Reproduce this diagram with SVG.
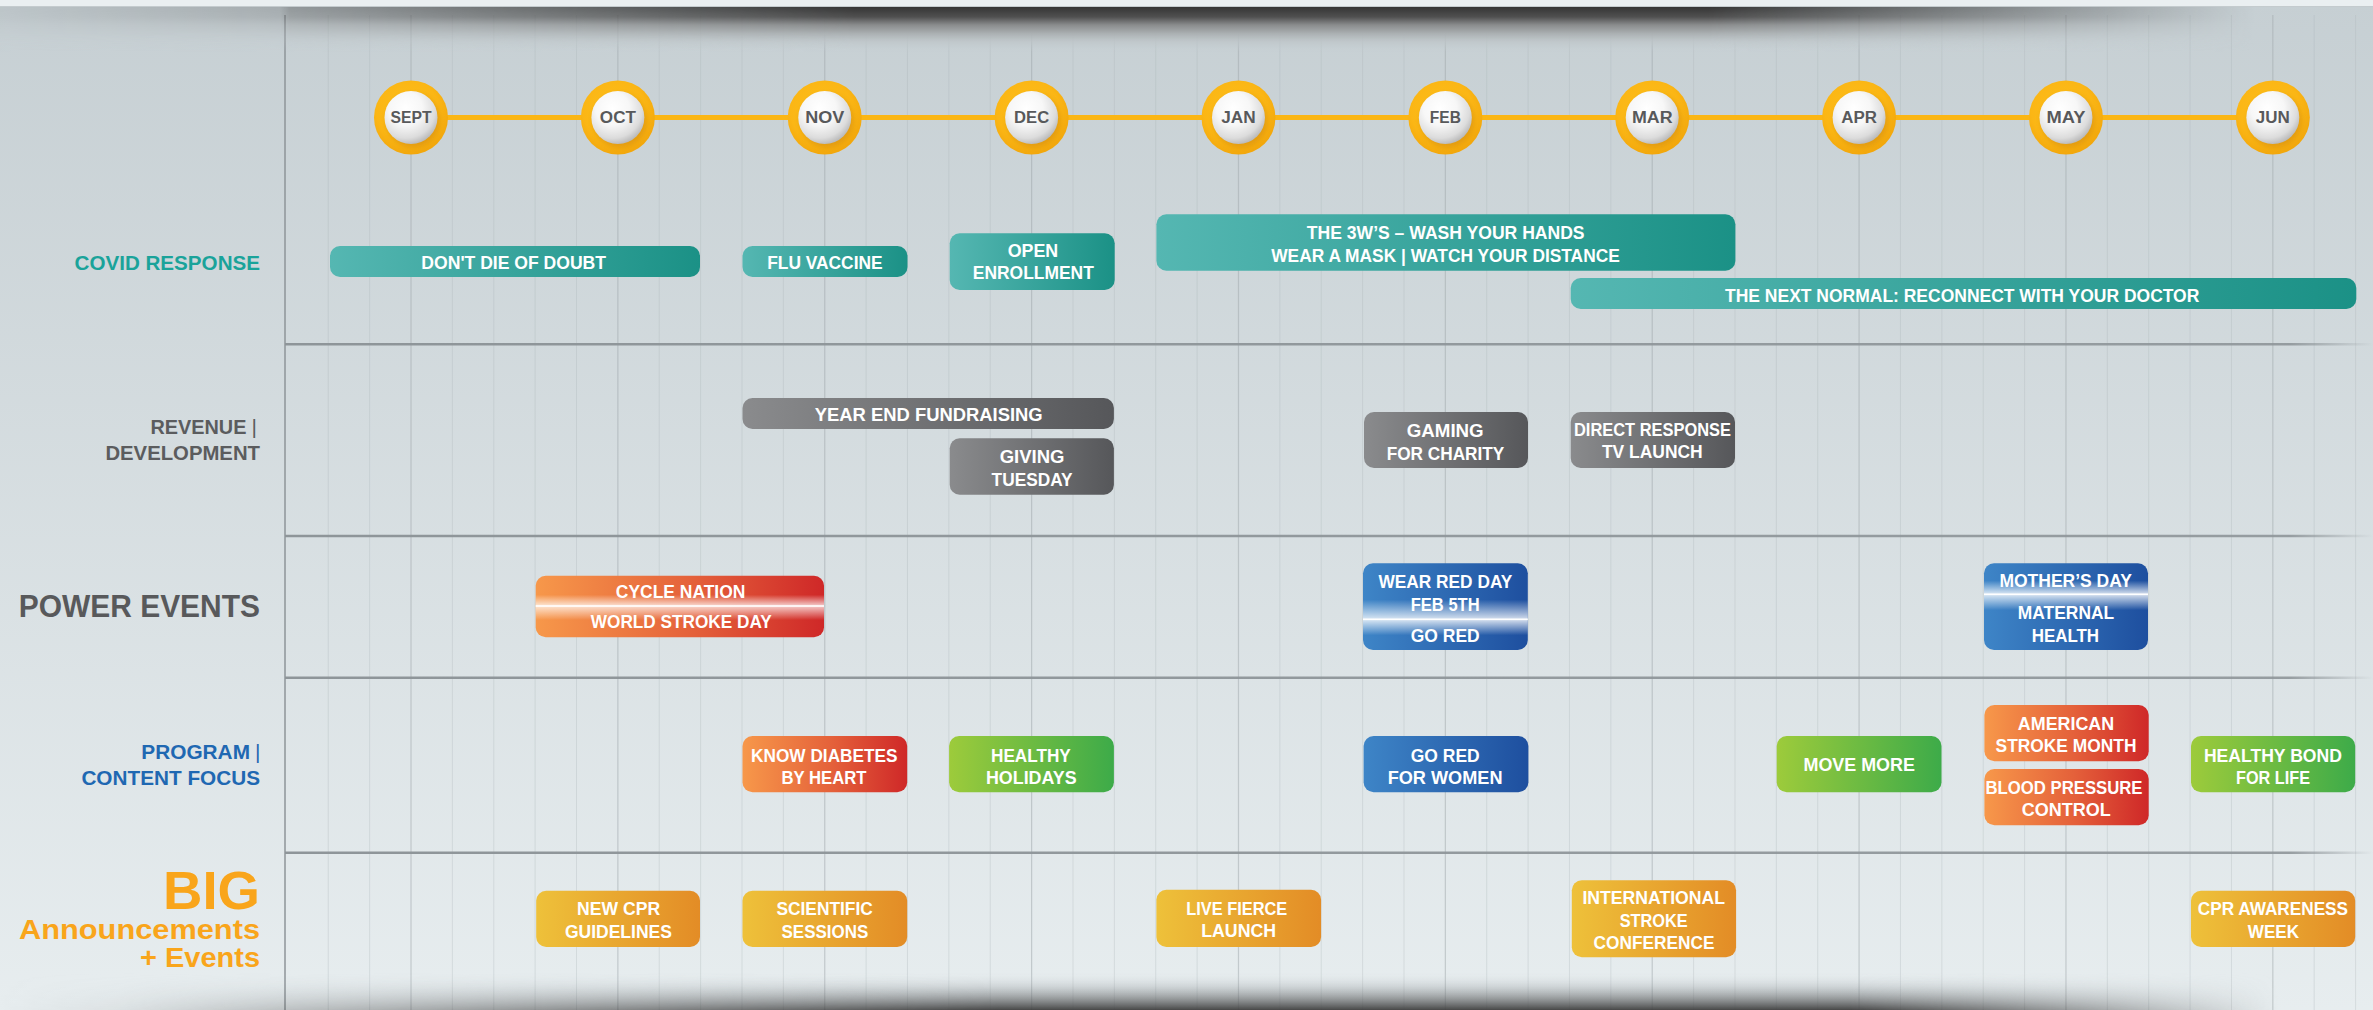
<svg xmlns="http://www.w3.org/2000/svg" width="2373" height="1010" viewBox="0 0 2373 1010">
<defs>
<style>
.bt{font-family:"Liberation Sans",Arial,sans-serif;font-weight:700;font-size:19px;fill:#fff;text-anchor:middle}
.mt{font-family:"Liberation Sans",Arial,sans-serif;font-weight:700;font-size:16px;fill:#58595b;text-anchor:middle}
.lb{font-family:"Liberation Sans",Arial,sans-serif;font-weight:700;text-anchor:end}
.bar{font-family:"Liberation Sans",Arial,sans-serif;font-weight:400;font-size:21px;text-anchor:middle}
.grid{stroke:#a9b2b6;stroke-width:1;stroke-opacity:.3;fill:none}
.gridm{stroke:#9fa8ac;stroke-width:1.2;stroke-opacity:.5;fill:none}
.hl{stroke:url(#hlFade);stroke-width:2.5;fill:none}
.sep{fill:#ffffff}
</style>
<linearGradient id="bg" x1="0" y1="0" x2="0" y2="1">
<stop offset="0" stop-color="#c6cfd3"/><stop offset="1" stop-color="#e7edef"/>
</linearGradient>
<linearGradient id="hlFade" gradientUnits="userSpaceOnUse" x1="285" y1="0" x2="2373" y2="0">
<stop offset="0" stop-color="#8e9599"/><stop offset="0.96" stop-color="#8e9599" stop-opacity="0.9"/><stop offset="1" stop-color="#8e9599" stop-opacity="0"/>
</linearGradient>
<linearGradient id="topSh" x1="0" y1="0" x2="0" y2="1">
<stop offset="0" stop-color="#353535"/><stop offset="0.22" stop-color="#505050"/><stop offset="0.4" stop-color="#8a8c8d"/><stop offset="0.58" stop-color="#a9aeb0"/><stop offset="0.75" stop-color="#bcc3c6" stop-opacity="0.8"/><stop offset="1" stop-color="#c6cfd3" stop-opacity="0"/>
</linearGradient>
<linearGradient id="botSh" x1="0" y1="0" x2="0" y2="1">
<stop offset="0" stop-color="#e7edef" stop-opacity="0"/><stop offset="0.4" stop-color="#8a8f92" stop-opacity="0.28"/><stop offset="1" stop-color="#3f3f3f" stop-opacity="0.95"/>
</linearGradient>
<linearGradient id="hfT" x1="0" y1="0" x2="1" y2="0">
<stop offset="0" stop-color="#111"/><stop offset="0.118" stop-color="#3a3a3a"/><stop offset="0.122" stop-color="#5a5a5a"/><stop offset="0.36" stop-color="#fff"/><stop offset="0.72" stop-color="#fff"/><stop offset="0.95" stop-color="#000"/>
</linearGradient>
<linearGradient id="hfB" x1="0" y1="0" x2="1" y2="0">
<stop offset="0" stop-color="#000"/><stop offset="0.05" stop-color="#111"/><stop offset="0.12" stop-color="#444"/><stop offset="0.42" stop-color="#fff"/><stop offset="0.78" stop-color="#fff"/><stop offset="0.96" stop-color="#000"/>
</linearGradient>
<mask id="mT" maskUnits="userSpaceOnUse" x="0" y="0" width="2373" height="1010"><rect x="0" y="0" width="2373" height="1010" fill="url(#hfT)"/></mask>
<mask id="mB" maskUnits="userSpaceOnUse" x="0" y="0" width="2373" height="1010"><rect x="0" y="0" width="2373" height="1010" fill="url(#hfB)"/></mask>
<linearGradient id="gTeal" x1="0" y1="0" x2="1" y2="0"><stop offset="0" stop-color="#55b7b2"/><stop offset="1" stop-color="#1b9186"/></linearGradient>
<linearGradient id="gGrey" x1="0" y1="0" x2="1" y2="0"><stop offset="0" stop-color="#8a8b8d"/><stop offset="1" stop-color="#56575a"/></linearGradient>
<linearGradient id="gRed" x1="0" y1="0" x2="1" y2="0"><stop offset="0" stop-color="#f7984a"/><stop offset="0.55" stop-color="#e4603a"/><stop offset="1" stop-color="#cf2828"/></linearGradient>
<linearGradient id="gGreen" x1="0" y1="0" x2="1" y2="0"><stop offset="0" stop-color="#9dcb3b"/><stop offset="1" stop-color="#3dab49"/></linearGradient>
<linearGradient id="gBlue" x1="0" y1="0" x2="1" y2="0"><stop offset="0" stop-color="#3e85c7"/><stop offset="1" stop-color="#1e4f9f"/></linearGradient>
<linearGradient id="gGold" x1="0" y1="0" x2="1" y2="0"><stop offset="0" stop-color="#eec13a"/><stop offset="1" stop-color="#e38c26"/></linearGradient>
<linearGradient id="glC" x1="0" y1="0" x2="0" y2="1"><stop offset="0" stop-color="#fff" stop-opacity="0"/><stop offset="0.31" stop-color="#fff" stop-opacity="0"/><stop offset="0.48" stop-color="#fff" stop-opacity="0.72"/><stop offset="0.5" stop-color="#fff" stop-opacity="0.72"/><stop offset="0.72" stop-color="#fff" stop-opacity="0"/><stop offset="1" stop-color="#fff" stop-opacity="0"/></linearGradient>
<linearGradient id="glW" x1="0" y1="0" x2="0" y2="1"><stop offset="0" stop-color="#fff" stop-opacity="0"/><stop offset="0.42" stop-color="#fff" stop-opacity="0"/><stop offset="0.64" stop-color="#fff" stop-opacity="0.78"/><stop offset="0.655" stop-color="#fff" stop-opacity="0.78"/><stop offset="0.83" stop-color="#fff" stop-opacity="0"/><stop offset="1" stop-color="#fff" stop-opacity="0"/></linearGradient>
<linearGradient id="glM" x1="0" y1="0" x2="0" y2="1"><stop offset="0" stop-color="#fff" stop-opacity="0"/><stop offset="0.2" stop-color="#fff" stop-opacity="0"/><stop offset="0.35" stop-color="#fff" stop-opacity="0.78"/><stop offset="0.365" stop-color="#fff" stop-opacity="0.78"/><stop offset="0.54" stop-color="#fff" stop-opacity="0"/><stop offset="1" stop-color="#fff" stop-opacity="0"/></linearGradient>
<radialGradient id="ring" cx="0.45" cy="0.4" r="0.6"><stop offset="0" stop-color="#fdbf1a"/><stop offset="0.7" stop-color="#fbb615"/><stop offset="1" stop-color="#f2a70c"/></radialGradient>
<radialGradient id="pearl" cx="0.4" cy="0.33" r="0.7"><stop offset="0" stop-color="#ffffff"/><stop offset="0.45" stop-color="#f7f7f7"/><stop offset="0.8" stop-color="#dcdcdc"/><stop offset="1" stop-color="#b7b7b7"/></radialGradient>
<filter id="blur3" x="-30%" y="-30%" width="160%" height="160%"><feGaussianBlur stdDeviation="2.5"/></filter>
</defs>

<!-- background -->
<rect x="0" y="0" width="2373" height="1010" fill="url(#bg)"/>
<g id="grid">
<path class="grid" d="M328.25 15V1010M369.63 15V1010M452.37 15V1010M493.75 15V1010M535.12 15V1010M576.5 15V1010M659.24 15V1010M700.62 15V1010M741.99 15V1010M783.37 15V1010M866.11 15V1010M907.49 15V1010M948.86 15V1010M990.24 15V1010M1072.98 15V1010M1114.36 15V1010M1155.73 15V1010M1197.11 15V1010M1279.85 15V1010M1321.23 15V1010M1362.6 15V1010M1403.98 15V1010M1486.72 15V1010M1528.1 15V1010M1569.47 15V1010M1610.85 15V1010M1693.59 15V1010M1734.97 15V1010M1776.34 15V1010M1817.72 15V1010M1900.46 15V1010M1941.84 15V1010M1983.21 15V1010M2024.59 15V1010M2107.33 15V1010M2148.71 15V1010M2190.08 15V1010M2231.46 15V1010M2314.2 15V1010M2355.58 15V1010"/>
<path class="gridm" d="M411 15V1010M617.87 15V1010M824.74 15V1010M1031.61 15V1010M1238.48 15V1010M1445.35 15V1010M1652.22 15V1010M1859.09 15V1010M2065.96 15V1010M2272.83 15V1010"/>
<line x1="285" y1="15" x2="285" y2="1010" stroke="#8e9599" stroke-width="1.5"/>
<path class="hl" d="M285 344.3H2373M285 536H2373M285 677.7H2373M285 852.7H2373"/>
</g>

<!-- row labels -->
<g id="labels">
<text class="lb" x="260" y="270" font-size="21" fill="#1aa39a" textLength="185.5" lengthAdjust="spacingAndGlyphs">COVID RESPONSE</text>
<text class="lb" x="246.4" y="434" font-size="21" fill="#5b5c5e" textLength="96" lengthAdjust="spacingAndGlyphs">REVENUE</text>
<text class="bar" x="254.3" y="434" fill="#5b5c5e">|</text>
<text class="lb" x="260" y="460" font-size="21" fill="#5b5c5e" textLength="154.6" lengthAdjust="spacingAndGlyphs">DEVELOPMENT</text>
<text class="lb" x="260" y="617.3" font-size="31" fill="#58595b" textLength="241.3" lengthAdjust="spacingAndGlyphs">POWER EVENTS</text>
<text class="lb" x="250" y="759" font-size="21" fill="#1f68b2" textLength="108.7" lengthAdjust="spacingAndGlyphs">PROGRAM</text>
<text class="bar" x="257.8" y="759" fill="#1f68b2">|</text>
<text class="lb" x="260" y="785" font-size="21" fill="#1f68b2" textLength="178.6" lengthAdjust="spacingAndGlyphs">CONTENT FOCUS</text>
<text class="lb" x="260" y="909.3" font-size="53" fill="#f9a51b" textLength="97" lengthAdjust="spacingAndGlyphs">BIG</text>
<text class="lb" x="260" y="939" font-size="28" fill="#f9a51b" textLength="241" lengthAdjust="spacingAndGlyphs">Announcements</text>
<text class="lb" x="260" y="966.7" font-size="28" fill="#f9a51b" textLength="120" lengthAdjust="spacingAndGlyphs">+ Events</text>
</g>

<!-- timeline connector -->
<g id="connectors">
<line x1="411" y1="117.5" x2="2272.83" y2="117.5" stroke="#fbb614" stroke-width="5"/>
</g>

<!-- months -->
<g id="m-sept" transform="translate(411,117.5)"><circle r="37" fill="url(#ring)"/><circle cx="2" cy="3" r="27" fill="#c9820a" opacity=".45" filter="url(#blur3)"/><circle r="26.5" fill="url(#pearl)"/><text class="mt" y="5.8" textLength="41" lengthAdjust="spacingAndGlyphs">SEPT</text></g>
<g id="m-oct" transform="translate(617.87,117.5)"><circle r="37" fill="url(#ring)"/><circle cx="2" cy="3" r="27" fill="#c9820a" opacity=".45" filter="url(#blur3)"/><circle r="26.5" fill="url(#pearl)"/><text class="mt" y="5.8" textLength="36" lengthAdjust="spacingAndGlyphs">OCT</text></g>
<g id="m-nov" transform="translate(824.74,117.5)"><circle r="37" fill="url(#ring)"/><circle cx="2" cy="3" r="27" fill="#c9820a" opacity=".45" filter="url(#blur3)"/><circle r="26.5" fill="url(#pearl)"/><text class="mt" y="5.8" textLength="39" lengthAdjust="spacingAndGlyphs">NOV</text></g>
<g id="m-dec" transform="translate(1031.61,117.5)"><circle r="37" fill="url(#ring)"/><circle cx="2" cy="3" r="27" fill="#c9820a" opacity=".45" filter="url(#blur3)"/><circle r="26.5" fill="url(#pearl)"/><text class="mt" y="5.8" textLength="35" lengthAdjust="spacingAndGlyphs">DEC</text></g>
<g id="m-jan" transform="translate(1238.48,117.5)"><circle r="37" fill="url(#ring)"/><circle cx="2" cy="3" r="27" fill="#c9820a" opacity=".45" filter="url(#blur3)"/><circle r="26.5" fill="url(#pearl)"/><text class="mt" y="5.8" textLength="34.4" lengthAdjust="spacingAndGlyphs">JAN</text></g>
<g id="m-feb" transform="translate(1445.35,117.5)"><circle r="37" fill="url(#ring)"/><circle cx="2" cy="3" r="27" fill="#c9820a" opacity=".45" filter="url(#blur3)"/><circle r="26.5" fill="url(#pearl)"/><text class="mt" y="5.8" textLength="31" lengthAdjust="spacingAndGlyphs">FEB</text></g>
<g id="m-mar" transform="translate(1652.22,117.5)"><circle r="37" fill="url(#ring)"/><circle cx="2" cy="3" r="27" fill="#c9820a" opacity=".45" filter="url(#blur3)"/><circle r="26.5" fill="url(#pearl)"/><text class="mt" y="5.8" textLength="40.6" lengthAdjust="spacingAndGlyphs">MAR</text></g>
<g id="m-apr" transform="translate(1859.09,117.5)"><circle r="37" fill="url(#ring)"/><circle cx="2" cy="3" r="27" fill="#c9820a" opacity=".45" filter="url(#blur3)"/><circle r="26.5" fill="url(#pearl)"/><text class="mt" y="5.8" textLength="35.6" lengthAdjust="spacingAndGlyphs">APR</text></g>
<g id="m-may" transform="translate(2065.96,117.5)"><circle r="37" fill="url(#ring)"/><circle cx="2" cy="3" r="27" fill="#c9820a" opacity=".45" filter="url(#blur3)"/><circle r="26.5" fill="url(#pearl)"/><text class="mt" y="5.8" textLength="39" lengthAdjust="spacingAndGlyphs">MAY</text></g>
<g id="m-jun" transform="translate(2272.83,117.5)"><circle r="37" fill="url(#ring)"/><circle cx="2" cy="3" r="27" fill="#c9820a" opacity=".45" filter="url(#blur3)"/><circle r="26.5" fill="url(#pearl)"/><text class="mt" y="5.8" textLength="34" lengthAdjust="spacingAndGlyphs">JUN</text></g>

<!-- COVID RESPONSE -->
<g id="n-dont-die"><rect x="330" y="246" width="370" height="31" rx="10" fill="url(#gTeal)"/><text class="bt" x="513.7" y="269.3" textLength="184.7" lengthAdjust="spacingAndGlyphs">DON'T DIE OF DOUBT</text></g>
<g id="n-flu"><rect x="742.5" y="246" width="165" height="31" rx="10" fill="url(#gTeal)"/><text class="bt" x="824.9" y="269.3" textLength="115.4" lengthAdjust="spacingAndGlyphs">FLU VACCINE</text></g>
<g id="n-open"><rect x="949.7" y="233.3" width="165" height="56.7" rx="10" fill="url(#gTeal)"/><text class="bt" x="1033" y="256.7" textLength="50.5" lengthAdjust="spacingAndGlyphs">OPEN</text><text class="bt" x="1033.3" y="279.3" textLength="121" lengthAdjust="spacingAndGlyphs">ENROLLMENT</text></g>
<g id="n-3ws"><rect x="1156.4" y="214.3" width="579" height="56.4" rx="10" fill="url(#gTeal)"/><text class="bt" x="1445.7" y="239" textLength="277.8" lengthAdjust="spacingAndGlyphs">THE 3W’S – WASH YOUR HANDS</text><text class="bt" x="1445.5" y="262" textLength="348.5" lengthAdjust="spacingAndGlyphs">WEAR A MASK | WATCH YOUR DISTANCE</text></g>
<g id="n-next-normal"><rect x="1570.7" y="278" width="785.6" height="31" rx="10" fill="url(#gTeal)"/><text class="bt" x="1962.2" y="301.7" textLength="474.3" lengthAdjust="spacingAndGlyphs">THE NEXT NORMAL: RECONNECT WITH YOUR DOCTOR</text></g>

<!-- REVENUE | DEVELOPMENT -->
<g id="n-year-end"><rect x="742.5" y="398" width="371.4" height="31" rx="10" fill="url(#gGrey)"/><text class="bt" x="928.7" y="420.7" textLength="228" lengthAdjust="spacingAndGlyphs">YEAR END FUNDRAISING</text></g>
<g id="n-giving"><rect x="949.7" y="438.3" width="164.2" height="56.4" rx="10" fill="url(#gGrey)"/><text class="bt" x="1032.1" y="463.3" textLength="64.8" lengthAdjust="spacingAndGlyphs">GIVING</text><text class="bt" x="1032.1" y="486.3" textLength="81" lengthAdjust="spacingAndGlyphs">TUESDAY</text></g>
<g id="n-gaming"><rect x="1364" y="412" width="164" height="56" rx="10" fill="url(#gGrey)"/><text class="bt" x="1445.2" y="436.7" textLength="77" lengthAdjust="spacingAndGlyphs">GAMING</text><text class="bt" x="1445.5" y="459.7" textLength="117.7" lengthAdjust="spacingAndGlyphs">FOR CHARITY</text></g>
<g id="n-direct"><rect x="1570.7" y="412" width="164.3" height="56" rx="10" fill="url(#gGrey)"/><text class="bt" x="1652.5" y="436" textLength="157" lengthAdjust="spacingAndGlyphs">DIRECT RESPONSE</text><text class="bt" x="1652.3" y="458.3" textLength="100.8" lengthAdjust="spacingAndGlyphs">TV LAUNCH</text></g>

<!-- POWER EVENTS -->
<g id="n-cycle"><rect x="535.7" y="575.7" width="288.3" height="61.6" rx="10" fill="url(#gRed)"/><rect x="535.7" y="575.7" width="288.3" height="61.6" rx="10" fill="url(#glC)"/><rect class="sep" x="535.7" y="605.2" width="288.3" height="1.6"/><text class="bt" x="680.6" y="598.3" textLength="129.6" lengthAdjust="spacingAndGlyphs">CYCLE NATION</text><text class="bt" x="681.3" y="628.3" textLength="181" lengthAdjust="spacingAndGlyphs">WORLD STROKE DAY</text></g>
<g id="n-wear-red"><rect x="1363" y="563.3" width="164.8" height="86.7" rx="10" fill="url(#gBlue)"/><rect x="1363" y="563.3" width="164.8" height="86.7" rx="10" fill="url(#glW)"/><rect class="sep" x="1363" y="618.5" width="164.8" height="1.6"/><text class="bt" x="1445.4" y="587.7" textLength="133.8" lengthAdjust="spacingAndGlyphs">WEAR RED DAY</text><text class="bt" x="1445.2" y="611" textLength="68.9" lengthAdjust="spacingAndGlyphs">FEB 5TH</text><text class="bt" x="1445.2" y="641.7" textLength="68.9" lengthAdjust="spacingAndGlyphs">GO RED</text></g>
<g id="n-mothers"><rect x="1984" y="563.3" width="164" height="86.7" rx="10" fill="url(#gBlue)"/><rect x="1984" y="563.3" width="164" height="86.7" rx="10" fill="url(#glM)"/><rect class="sep" x="1984" y="593.5" width="164" height="1.6"/><text class="bt" x="2065.7" y="586.7" textLength="132.5" lengthAdjust="spacingAndGlyphs">MOTHER’S DAY</text><text class="bt" x="2066" y="618.7" textLength="96.3" lengthAdjust="spacingAndGlyphs">MATERNAL</text><text class="bt" x="2065.4" y="641.7" textLength="67.4" lengthAdjust="spacingAndGlyphs">HEALTH</text></g>

<!-- PROGRAM | CONTENT FOCUS -->
<g id="n-know-diabetes"><rect x="742.5" y="736" width="164.7" height="56.3" rx="10" fill="url(#gRed)"/><text class="bt" x="824.3" y="761.7" textLength="146.4" lengthAdjust="spacingAndGlyphs">KNOW DIABETES</text><text class="bt" x="824" y="783.7" textLength="85" lengthAdjust="spacingAndGlyphs">BY HEART</text></g>
<g id="n-healthy-holidays"><rect x="949.1" y="736" width="164.8" height="56.3" rx="10" fill="url(#gGreen)"/><text class="bt" x="1030.9" y="761.7" textLength="79.8" lengthAdjust="spacingAndGlyphs">HEALTHY</text><text class="bt" x="1031.3" y="783.7" textLength="90.7" lengthAdjust="spacingAndGlyphs">HOLIDAYS</text></g>
<g id="n-go-red-women"><rect x="1363.6" y="736" width="164.8" height="56.3" rx="10" fill="url(#gBlue)"/><text class="bt" x="1445.2" y="761.7" textLength="68.9" lengthAdjust="spacingAndGlyphs">GO RED</text><text class="bt" x="1445.1" y="783.7" textLength="114.8" lengthAdjust="spacingAndGlyphs">FOR WOMEN</text></g>
<g id="n-move-more"><rect x="1776.7" y="736" width="164.8" height="56.3" rx="10" fill="url(#gGreen)"/><text class="bt" x="1859.2" y="771.3" textLength="111.4" lengthAdjust="spacingAndGlyphs">MOVE MORE</text></g>
<g id="n-stroke-month"><rect x="1984.4" y="705" width="164.3" height="56.3" rx="10" fill="url(#gRed)"/><text class="bt" x="2066" y="730" textLength="96.3" lengthAdjust="spacingAndGlyphs">AMERICAN</text><text class="bt" x="2066" y="751.7" textLength="140.9" lengthAdjust="spacingAndGlyphs">STROKE MONTH</text></g>
<g id="n-blood-pressure"><rect x="1984.4" y="769" width="164.3" height="56.3" rx="10" fill="url(#gRed)"/><text class="bt" x="2064" y="794" textLength="157" lengthAdjust="spacingAndGlyphs">BLOOD PRESSURE</text><text class="bt" x="2066.3" y="816" textLength="89" lengthAdjust="spacingAndGlyphs">CONTROL</text></g>
<g id="n-healthy-bond"><rect x="2191" y="736" width="164.2" height="56.3" rx="10" fill="url(#gGreen)"/><text class="bt" x="2272.9" y="761.7" textLength="138" lengthAdjust="spacingAndGlyphs">HEALTHY BOND</text><text class="bt" x="2273" y="783.7" textLength="74" lengthAdjust="spacingAndGlyphs">FOR LIFE</text></g>

<!-- BIG Announcements + Events -->
<g id="n-cpr-guidelines"><rect x="536.2" y="890.7" width="163.8" height="56.3" rx="10" fill="url(#gGold)"/><text class="bt" x="618.6" y="915" textLength="83" lengthAdjust="spacingAndGlyphs">NEW CPR</text><text class="bt" x="618.4" y="937.7" textLength="107" lengthAdjust="spacingAndGlyphs">GUIDELINES</text></g>
<g id="n-scientific"><rect x="742.5" y="890.7" width="164.7" height="56.3" rx="10" fill="url(#gGold)"/><text class="bt" x="824.6" y="915" textLength="96.4" lengthAdjust="spacingAndGlyphs">SCIENTIFIC</text><text class="bt" x="824.9" y="937.7" textLength="86.7" lengthAdjust="spacingAndGlyphs">SESSIONS</text></g>
<g id="n-live-fierce"><rect x="1156.4" y="889.7" width="164.7" height="57.3" rx="10" fill="url(#gGold)"/><text class="bt" x="1236.8" y="915" textLength="101" lengthAdjust="spacingAndGlyphs">LIVE FIERCE</text><text class="bt" x="1238.7" y="936.7" textLength="75" lengthAdjust="spacingAndGlyphs">LAUNCH</text></g>
<g id="n-intl-stroke"><rect x="1571.8" y="880.3" width="164.3" height="77" rx="10" fill="url(#gGold)"/><text class="bt" x="1653.7" y="904" textLength="142.5" lengthAdjust="spacingAndGlyphs">INTERNATIONAL</text><text class="bt" x="1653.7" y="926.7" textLength="68" lengthAdjust="spacingAndGlyphs">STROKE</text><text class="bt" x="1654" y="948.7" textLength="120.8" lengthAdjust="spacingAndGlyphs">CONFERENCE</text></g>
<g id="n-cpr-week"><rect x="2191" y="890.7" width="164.2" height="56.3" rx="10" fill="url(#gGold)"/><text class="bt" x="2272.9" y="915" textLength="150.3" lengthAdjust="spacingAndGlyphs">CPR AWARENESS</text><text class="bt" x="2273.4" y="937.7" textLength="51.2" lengthAdjust="spacingAndGlyphs">WEEK</text></g>

<!-- page shadows -->
<rect x="0" y="7" width="2373" height="45" fill="url(#topSh)" mask="url(#mT)"/>
<rect x="0" y="0" width="2373" height="6" fill="#eaeff1"/>
<rect x="0" y="6" width="2373" height="1" fill="#c4cbce"/>
<rect x="0" y="972" width="2373" height="38" fill="url(#botSh)" mask="url(#mB)"/>
</svg>
